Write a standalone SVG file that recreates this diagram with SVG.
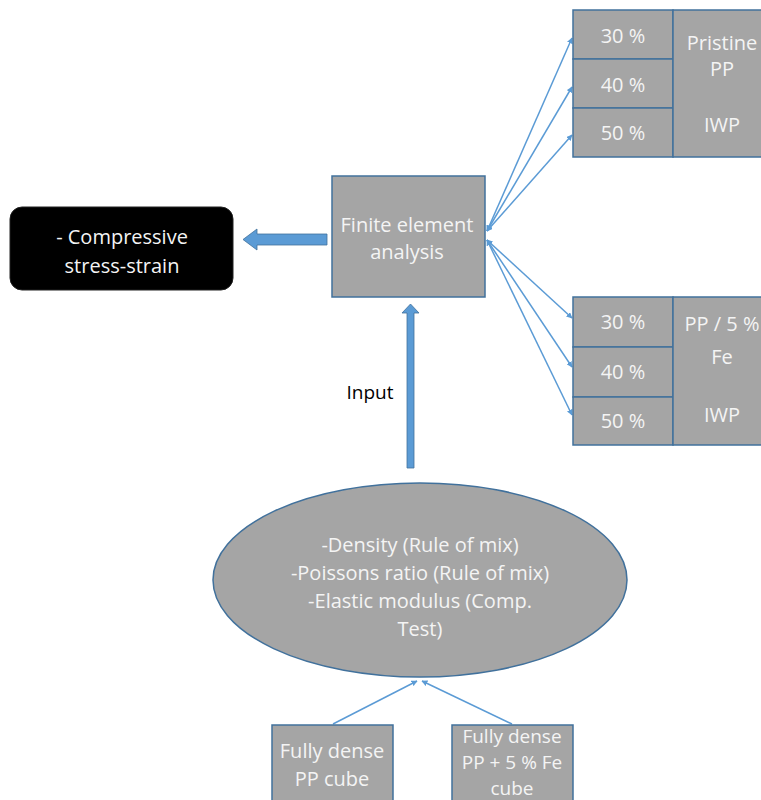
<svg xmlns="http://www.w3.org/2000/svg" width="761" height="800" viewBox="0 0 761 800">
<style>
.box{fill:#a5a5a5;stroke:#41719c;stroke-width:1.5}
.t{font-family:"Open Sans","Noto Sans",sans-serif;font-size:20px;fill:#f4f4f4;text-anchor:middle}
.s{font-size:19px}
.ln{stroke:#5b9bd5;stroke-width:1.5;fill:none}
.blk{fill:#5b9bd5;stroke:#41719c;stroke-width:0.8}
</style>
<defs>
<marker id="ah" viewBox="0 0 10 10" refX="9" refY="5" markerWidth="6" markerHeight="6" markerUnits="userSpaceOnUse" orient="auto-start-reverse">
<path d="M0,0 L10,5 L0,10 z" fill="#5b9bd5"/>
</marker>
</defs>
<rect width="761" height="800" fill="#ffffff"/>
<g id="connectors">
<line class="ln" x1="487" y1="231" x2="572" y2="38" marker-start="url(#ah)" marker-end="url(#ah)"/>
<line class="ln" x1="487" y1="231" x2="572" y2="87" marker-start="url(#ah)" marker-end="url(#ah)"/>
<line class="ln" x1="487" y1="231" x2="572" y2="135" marker-start="url(#ah)" marker-end="url(#ah)"/>
<line class="ln" x1="487" y1="240" x2="572" y2="318" marker-start="url(#ah)" marker-end="url(#ah)"/>
<line class="ln" x1="487" y1="240" x2="572" y2="367" marker-start="url(#ah)" marker-end="url(#ah)"/>
<line class="ln" x1="487" y1="240" x2="572" y2="415" marker-start="url(#ah)" marker-end="url(#ah)"/>
<line class="ln" x1="333" y1="724" x2="417" y2="681" marker-end="url(#ah)"/>
<line class="ln" x1="512" y1="724" x2="422" y2="681" marker-end="url(#ah)"/>
<path class="blk" d="M327,234 L257,234 L257,229 L243,239.5 L257,250 L257,245 L327,245 z"/>
<path class="blk" d="M407,468 L407,313 L402,313 L410.5,304 L419,313 L414,313 L414,468 z"/>
</g>
<g id="output">
<rect x="10" y="207" width="223" height="83" rx="12" fill="#000000" stroke="#222" stroke-width="1"/>
<text class="t" x="122" y="244" fill="#ffffff">- Compressive</text>
<text class="t" x="122" y="273" fill="#ffffff">stress-strain</text>
</g>
<g id="fea">
<rect class="box" x="332" y="176" width="153" height="121"/>
<text class="t" x="407" y="232">Finite element</text>
<text class="t" x="407" y="259">analysis</text>
</g>
<g id="pristine">
<rect class="box" x="573" y="10" width="100" height="49"/>
<rect class="box" x="573" y="59" width="100" height="49"/>
<rect class="box" x="573" y="108" width="100" height="49"/>
<rect class="box" x="673" y="10" width="98" height="147"/>
<text class="t" x="623" y="43">30 %</text>
<text class="t" x="623" y="92">40 %</text>
<text class="t" x="623" y="140">50 %</text>
<text class="t" x="722" y="50">Pristine</text>
<text class="t" x="722" y="76">PP</text>
<text class="t" x="722" y="132">IWP</text>
</g>
<g id="ppfe">
<rect class="box" x="573" y="297" width="100" height="50"/>
<rect class="box" x="573" y="347" width="100" height="50"/>
<rect class="box" x="573" y="397" width="100" height="48"/>
<rect class="box" x="673" y="297" width="98" height="148"/>
<text class="t" x="623" y="329">30 %</text>
<text class="t" x="623" y="379">40 %</text>
<text class="t" x="623" y="428">50 %</text>
<text class="t" x="722" y="331">PP / 5 %</text>
<text class="t" x="722" y="364">Fe</text>
<text class="t" x="722" y="422">IWP</text>
</g>
<g id="input-label">
<text x="370" y="399" font-family="'Open Sans','Noto Sans',sans-serif" font-size="19px" fill="#000" text-anchor="middle">Input</text>
</g>
<g id="properties">
<ellipse class="box" cx="420" cy="580" rx="207" ry="97"/>
<text class="t" x="420" y="552">-Density (Rule of mix)</text>
<text class="t" x="420" y="580">-Poissons ratio (Rule of mix)</text>
<text class="t" x="420" y="608">-Elastic modulus (Comp.</text>
<text class="t" x="420" y="636">Test)</text>
</g>
<g id="pp-cube">
<rect class="box" x="272" y="725" width="121" height="80"/>
<text class="t" x="332" y="758">Fully dense</text>
<text class="t" x="332" y="786">PP cube</text>
</g>
<g id="ppfe-cube">
<rect class="box" x="452" y="725" width="121" height="80"/>
<text class="t s" x="512" y="743">Fully dense</text>
<text class="t s" x="512" y="769">PP + 5 % Fe</text>
<text class="t s" x="512" y="795">cube</text>
</g>
</svg>
